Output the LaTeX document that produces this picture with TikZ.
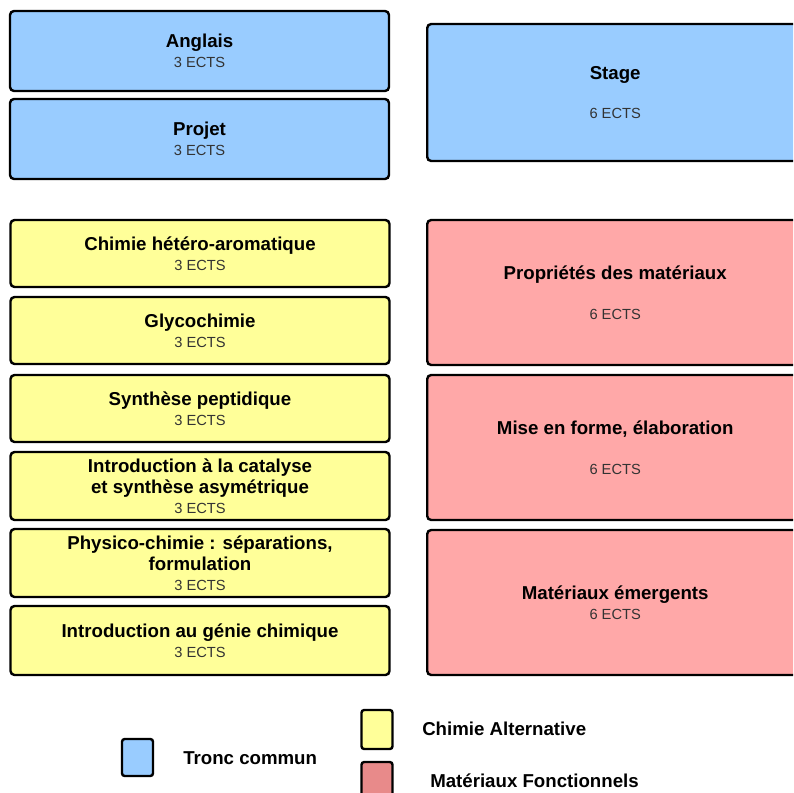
\documentclass[tikz,border=0pt]{standalone}
\usepackage{fontspec}
\setmainfont{Liberation Sans}
\definecolor{tronc}{HTML}{99CCFF}
\definecolor{chimie}{HTML}{FFFF99}
\definecolor{mater}{HTML}{FFA8A8}
\definecolor{materleg}{HTML}{E88A8A}
\definecolor{ectsgray}{HTML}{333333}
\newcommand{\ects}[1]{{\fontsize{11}{14}\selectfont\mdseries\color{ectsgray}#1 ECTS}}
\tikzset{
  ue/.style={draw=black,line width=1.8pt,rounded corners=3pt,align=center,
    font=\fontsize{14}{15.75}\selectfont\bfseries,inner sep=0pt},
  left ue/.style={ue,minimum width=379*0.75pt},
  right ue/.style={ue,minimum width=376*0.75pt},
  legbox/.style={draw=black,line width=1.8pt,rounded corners=2pt,minimum width=31*0.75pt},
  legtxt/.style={font=\fontsize{14}{16}\selectfont\bfseries,anchor=west,inner sep=0pt}
}
\begin{document}
\begin{tikzpicture}[x=0.75pt,y=-0.75pt]
  \useasboundingbox (0,0) rectangle (793,793);
  \clip (0,0) rectangle (793,793);
  % tronc commun
  \node[left ue,fill=tronc,minimum height=80*0.75pt] (anglais) at (199.5,51) {Anglais\\[-1pt]\ects{3}};
  \node[left ue,fill=tronc,minimum height=80*0.75pt] (projet) at (199.5,139) {Projet\\[-1pt]\ects{3}};
  \node[right ue,fill=tronc,minimum height=137*0.75pt,anchor=west] (stage) at (426,92.5) {Stage\\[14pt]\ects{6}};
  % chimie alternative
  \node[left ue,fill=chimie,minimum height=67*0.75pt] (hetero) at (200,253.5) {Chimie hétéro-aromatique\\[-1pt]\ects{3}};
  \node[left ue,fill=chimie,minimum height=67*0.75pt] (glyco) at (200,330.5) {Glycochimie\\[-1pt]\ects{3}};
  \node[left ue,fill=chimie,minimum height=67*0.75pt] (peptid) at (200,408.5) {Synthèse peptidique\\[-1pt]\ects{3}};
  \node[left ue,fill=chimie,minimum height=68*0.75pt] (catalyse) at (200,486) {Introduction à la catalyse\\[0pt]et synthèse asymétrique\\[-1pt]\ects{3}};
  \node[left ue,fill=chimie,minimum height=68*0.75pt] (physico) at (200,563) {Physico-chimie : séparations,\\[0pt]formulation\\[-1pt]\ects{3}};
  \node[left ue,fill=chimie,minimum height=69*0.75pt] (genie) at (200,640.5) {Introduction au génie chimique\\[-1pt]\ects{3}};
  % materiaux fonctionnels
  \node[right ue,fill=mater,minimum height=145*0.75pt,anchor=west] (proprietes) at (426,292.5) {Propriétés des matériaux\\[14pt]\ects{6}};
  \node[right ue,fill=mater,minimum height=145*0.75pt,anchor=west] (miseforme) at (426,447.5) {Mise en forme, élaboration\\[14pt]\ects{6}};
  \node[right ue,fill=mater,minimum height=145*0.75pt,anchor=west] (emergents) at (426,602.5) {Matériaux émergents\\[-1pt]\ects{6}};
  % legende
  \node[legbox,fill=tronc,minimum height=37*0.75pt] (legtronc) at (137.5,757.5) {};
  \node[legtxt] (txttronc) at (183,758) {Tronc commun};
  \node[legbox,fill=chimie,minimum height=39*0.75pt] (legchimie) at (377,729.5) {};
  \node[legtxt] (txtchimie) at (422,729) {Chimie Alternative};
  \node[legbox,fill=materleg,minimum height=39*0.75pt] (legmater) at (377,781.5) {};
  \node[legtxt] (txtmater) at (430,781) {Matériaux Fonctionnels};
\end{tikzpicture}
\end{document}
